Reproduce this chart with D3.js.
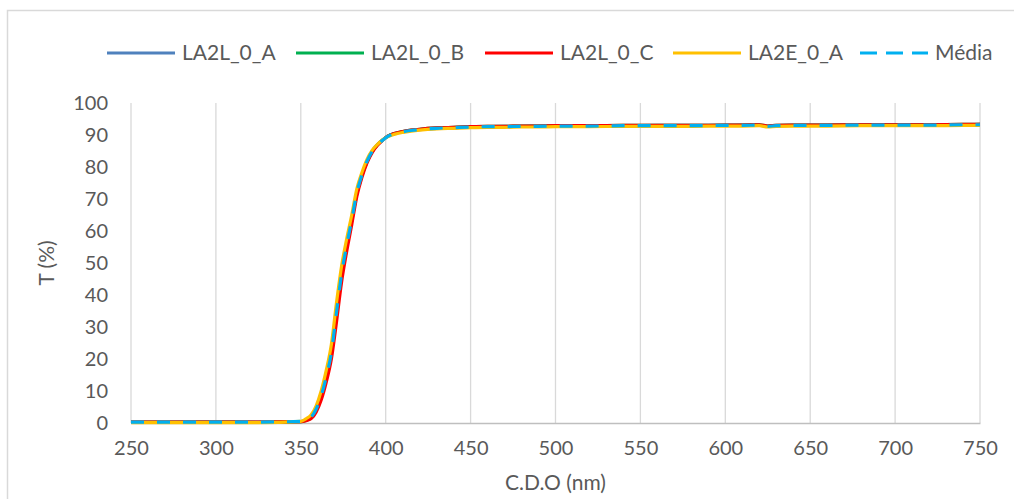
<!DOCTYPE html>
<html>
<head>
<meta charset="utf-8">
<script src="https://cdn.jsdelivr.net/npm/d3@7"></script>
<style>
  body { margin: 0; background: #fff; }
  svg text { font-family: Lato, "Open Sans", sans-serif; fill: #595959; }
</style>
</head>
<body>
<div class="chart"></div>
<script>
// wavelengths (nm)
const wl = [250, 275, 300, 325, 350, 353, 356, 359, 362, 365, 368, 371, 374, 377, 380, 383, 386, 389, 392, 395,
  398, 401, 405, 410, 415, 420, 430, 440, 450, 460, 470, 480, 490, 500, 520, 540, 560, 580, 600, 610,
  620, 625, 630, 640, 660, 680, 700, 720, 740, 750]

// transmittance (%) per sample
const la2l_0_a = [0.2, 0.2, 0.3, 0.3, 0.4, 0.9, 1.7, 4.2, 8.4, 14.3, 21.8, 34.2, 46.3, 55.3, 63.4, 71.8, 77.4, 81.7, 84.8, 86.8,
  88.3, 89.5, 90.4, 91.0, 91.4, 91.7, 92.1, 92.3, 92.5, 92.6, 92.7, 92.7, 92.8, 92.8, 92.9, 92.9, 93.0, 93.0, 93.0, 93.1,
  93.1, 92.7, 92.9, 93.0, 93.1, 93.1, 93.2, 93.2, 93.2, 93.3]
const la2l_0_b = [0.3, 0.3, 0.3, 0.2, 0.4, 0.8, 1.6, 4.0, 8.1, 14.0, 21.5, 33.8, 46.0, 55.0, 63.2, 71.7, 77.3, 81.7, 84.8, 86.9,
  88.4, 89.6, 90.5, 91.1, 91.5, 91.8, 92.2, 92.4, 92.6, 92.7, 92.7, 92.8, 92.8, 92.9, 92.9, 93.0, 93.0, 93.0, 93.1, 93.1,
  93.2, 92.8, 93.0, 93.1, 93.1, 93.2, 93.2, 93.2, 93.3, 93.3]
const la2l_0_c = [0.3, 0.3, 0.3, 0.3, 0.4, 0.7, 1.3, 3.4, 7.2, 12.8, 20.0, 31.5, 44.0, 53.5, 62.0, 70.8, 76.8, 81.3, 84.5, 86.7,
  88.3, 89.6, 90.5, 91.1, 91.5, 91.8, 92.2, 92.4, 92.6, 92.7, 92.7, 92.8, 92.8, 92.9, 92.9, 93.0, 93.0, 93.0, 93.1, 93.1,
  93.2, 92.8, 93.0, 93.1, 93.1, 93.2, 93.2, 93.2, 93.3, 93.3]
const la2e_0_a = [0.1, 0.1, 0.1, 0.1, 0.5, 1.3, 2.5, 5.3, 10.0, 16.5, 24.5, 37.5, 49.0, 57.5, 65.0, 73.2, 78.3, 82.4, 85.2, 87.0,
  88.4, 89.4, 90.2, 90.8, 91.2, 91.5, 91.9, 92.1, 92.3, 92.4, 92.4, 92.5, 92.5, 92.6, 92.6, 92.7, 92.7, 92.7, 92.8, 92.8,
  92.9, 92.5, 92.7, 92.8, 92.8, 92.9, 92.9, 92.9, 93.0, 93.0]
const media = [0.3, 0.3, 0.3, 0.3, 0.5, 1.0, 1.8, 4.3, 8.5, 14.5, 22.0, 34.5, 46.5, 55.5, 63.5, 72.0, 77.5, 81.8, 84.8, 86.8,
  88.3, 89.5, 90.4, 91.0, 91.4, 91.7, 92.1, 92.3, 92.5, 92.6, 92.6, 92.7, 92.7, 92.8, 92.8, 92.9, 92.9, 92.9, 93.0, 93.0,
  93.1, 92.7, 92.9, 93.0, 93.0, 93.1, 93.1, 93.1, 93.2, 93.2]

const names = ["LA2L_0_A", "LA2L_0_B", "LA2L_0_C", "LA2E_0_A", "Média"]
const colors = ["#4f81bd", "#00b050", "#ff0000", "#ffc000", "#00b0f0"]
const xTicks = [250, 300, 350, 400, 450, 500, 550, 600, 650, 700, 750]
const yTicks = [0, 10, 20, 30, 40, 50, 60, 70, 80, 90, 100]

const series = [la2l_0_a, la2l_0_b, la2l_0_c, la2e_0_a, media].map((vals, i) => ({
  name: names[i],
  color: colors[i],
  dashed: names[i] === "Média",
  points: wl.map((w, j) => ({x: w, y: vals[j]}))
}))

const W = 1014, H = 499
const svg = d3.select(".chart").append("svg").attr("width", W).attr("height", H)

// chart border (only top/left visible in the crop)
svg.append("rect").attr("x", 7.5).attr("y", 10.5).attr("width", 1100).attr("height", 600)
  .attr("fill", "none").attr("stroke", "#d9d9d9").attr("stroke-width", 1.5)

const xScale = d3.scaleLinear().domain([250, 750]).range([131, 980])
const yScale = d3.scaleLinear().domain([0, 100]).range([423, 103])

// vertical gridlines
svg.append("g").selectAll("line").data(xTicks).join("line")
  .attr("x1", d => xScale(d)).attr("x2", d => xScale(d))
  .attr("y1", yScale(100)).attr("y2", yScale(0))
  .attr("stroke", "#d9d9d9").attr("stroke-width", 1.3)

// x axis
const xAxis = svg.append("g").attr("transform", `translate(0,${yScale(0)})`)
  .call(d3.axisBottom(xScale).tickValues(xTicks).tickSize(0).tickPadding(18))
xAxis.select(".domain").attr("stroke", "#bfbfbf").attr("stroke-width", 1.5)
xAxis.selectAll("text").attr("font-size", 20).attr("fill", "#595959").style("font-family", "Lato")

// y axis (labels only)
const yAxis = svg.append("g").attr("transform", `translate(${xScale(250)},0)`)
  .call(d3.axisLeft(yScale).tickValues(yTicks).tickSize(0).tickPadding(23))
yAxis.select(".domain").remove()
yAxis.selectAll("text").attr("font-size", 20).attr("fill", "#595959").style("font-family", "Lato")

// axis titles
svg.append("text").attr("x", (xScale(250) + xScale(750)) / 2).attr("y", 490)
  .attr("text-anchor", "middle").attr("font-size", 21).text("C.D.O (nm)")
svg.append("text").attr("transform", `translate(54,${yScale(50)}) rotate(-90)`)
  .attr("text-anchor", "middle").attr("font-size", 21).text("T (%)")

// lines
const lineGen = d3.line().x(d => xScale(d.x)).y(d => yScale(d.y)).curve(d3.curveMonotoneX)
svg.append("g").selectAll("path").data(series).join("path")
  .attr("d", d => lineGen(d.points))
  .attr("fill", "none")
  .attr("stroke", d => d.color)
  .attr("stroke-width", 3.2)
  .attr("stroke-linejoin", "round")
  .attr("stroke-dasharray", d => d.dashed ? "13,13" : null)

// legend
const legendX = [107, 296, 485, 673, 860]
const legend = svg.append("g").selectAll("g").data(series).join("g")
  .attr("transform", (d, i) => `translate(${legendX[i]},53)`)
legend.append("line").attr("x1", 0).attr("x2", 68).attr("y1", 0).attr("y2", 0)
  .attr("stroke", d => d.color).attr("stroke-width", 3.2)
  .attr("stroke-dasharray", d => d.dashed ? "17,9" : null)
legend.append("text").attr("x", 75).attr("y", 0).attr("dy", "0.35em")
  .attr("font-size", 21).text(d => d.name)
</script>
</body>
</html>
